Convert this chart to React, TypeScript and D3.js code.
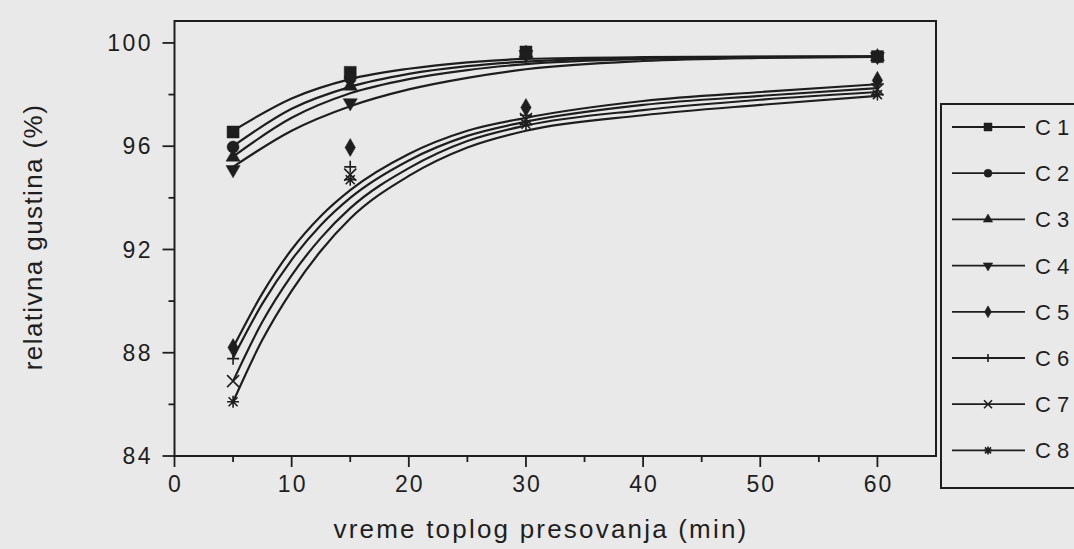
import React, { useEffect, useRef } from 'react';
import * as d3 from 'd3';

// measured times (min)
const TIMES = [5, 15, 30, 60];
const SERIES_NAMES = ['C1', 'C2', 'C3', 'C4', 'C5', 'C6', 'C7', 'C8'];
const SYMBOLS = ['square', 'circle', 'triangle', 'triangleDown', 'diamond', 'plus', 'cross', 'star'];

// measured relative density (%)
const c1Points = [96.55, 98.86, 99.65, 99.47];
const c2Points = [95.97, 98.63, 99.6, 99.47];
const c3Points = [95.58, 98.33, 99.6, 99.47];
const c4Points = [95.09, 97.68, 99.55, 99.47];
const c5Points = [88.2, 95.95, 97.5, 98.55];
const c6Points = [87.77, 95.2, 97.2, 98.4];
const c7Points = [86.9, 94.9, 97.05, 98.2];
const c8Points = [86.1, 94.7, 96.85, 98.0];

// fitted curves
const FIT_X_UPPER = [5, 10, 15, 20, 25, 30, 40, 50, 60];
const c1Fit = [96.6, 97.85, 98.6, 99.0, 99.25, 99.38, 99.45, 99.47, 99.48];
const c2Fit = [96.0, 97.45, 98.3, 98.8, 99.1, 99.28, 99.42, 99.46, 99.47];
const c3Fit = [95.6, 97.1, 98.05, 98.6, 98.95, 99.18, 99.38, 99.45, 99.47];
const c4Fit = [95.2, 96.6, 97.55, 98.2, 98.65, 98.98, 99.3, 99.42, 99.46];

const FIT_X_LOWER = [5, 7.5, 10, 12.5, 15, 20, 25, 30, 40, 50, 60];
const c5Fit = [88.2, 90.3, 92.0, 93.3, 94.3, 95.7, 96.6, 97.1, 97.75, 98.1, 98.4];
const c6Fit = [87.8, 89.9, 91.6, 92.95, 94.0, 95.45, 96.4, 96.95, 97.6, 97.95, 98.25];
const c7Fit = [86.9, 89.2, 91.0, 92.45, 93.6, 95.15, 96.2, 96.8, 97.4, 97.8, 98.1];
const c8Fit = [86.1, 88.5, 90.4, 91.95, 93.2, 94.85, 95.95, 96.6, 97.2, 97.6, 97.95];

const POINTS = [c1Points, c2Points, c3Points, c4Points, c5Points, c6Points, c7Points, c8Points];
const FITS = [c1Fit, c2Fit, c3Fit, c4Fit, c5Fit, c6Fit, c7Fit, c8Fit];

const X_TICKS = [0, 10, 20, 30, 40, 50, 60];
const Y_TICKS = [84, 88, 92, 96, 100];

const INK = '#1e1e1e';
const FONT = 'Liberation Sans, Arial, sans-serif';

function markerPath(kind: string, r: number): string {
  const sym = (t: d3.SymbolType, area: number) => d3.symbol().type(t).size(area)() as string;
  switch (kind) {
    case 'square': return sym(d3.symbolSquare, (2 * r) * (2 * r));
    case 'circle': return sym(d3.symbolCircle, Math.PI * r * r);
    case 'triangle': return sym(d3.symbolTriangle, r * r * 2.4);
    case 'triangleDown': return sym(d3.symbolTriangle, r * r * 2.4);
    case 'diamond': return sym(d3.symbolDiamond, r * r * 2.6);
    case 'plus': return `M${-r},0H${r}M0,${-r}V${r}`;
    case 'cross': return `M${-r},${-r}L${r},${r}M${-r},${r}L${r},${-r}`;
    default: {
      const d = r * 0.75;
      return `M${-r},0H${r}M0,${-r}V${r}M${-d},${-d}L${d},${d}M${-d},${d}L${d},${-d}`;
    }
  }
}

function drawMarker(g: d3.Selection<SVGGElement, unknown, null, undefined>, kind: string, x: number, y: number, r: number) {
  const filled = !['plus', 'cross', 'star'].includes(kind);
  g.append('path')
    .attr('d', markerPath(kind, r))
    .attr('transform', `translate(${x},${y})${kind === 'triangleDown' ? ' rotate(180)' : ''}`)
    .attr('fill', filled ? INK : 'none')
    .attr('stroke', INK)
    .attr('stroke-width', filled ? 0.5 : 1.6);
}

const App: React.FC = () => {
  const svgRef = useRef<SVGSVGElement>(null);

  useEffect(() => {
    if (!svgRef.current) return;
    const width = 1074;
    const height = 549;
    const margin = { left: 174.5, top: 21, right: 936, bottom: 456 };

    const svg = d3.select(svgRef.current);
    svg.selectAll('*').remove();

    svg.append('rect').attr('width', width).attr('height', height).attr('fill', '#e9e9e9');

    const x = d3.scaleLinear().domain([0, 65]).range([margin.left, margin.right]);
    const y = d3.scaleLinear().domain([84, 100.85]).range([margin.bottom, margin.top]);

    // frame
    svg.append('rect')
      .attr('x', margin.left).attr('y', margin.top)
      .attr('width', margin.right - margin.left).attr('height', margin.bottom - margin.top)
      .attr('fill', 'none').attr('stroke', INK).attr('stroke-width', 2);

    // y axis ticks
    const yAxis = svg.append('g');
    d3.range(84, 101, 2).forEach(v => {
      const major = v % 4 === 0;
      yAxis.append('line')
        .attr('x1', margin.left - (major ? 12 : 6)).attr('x2', margin.left)
        .attr('y1', y(v)).attr('y2', y(v))
        .attr('stroke', INK).attr('stroke-width', 1.8);
    });
    Y_TICKS.forEach(v => {
      yAxis.append('text')
        .attr('x', 153).attr('y', y(v))
        .attr('dy', '0.36em')
        .attr('text-anchor', 'end')
        .attr('font-family', FONT).attr('font-size', 23)
        .attr('letter-spacing', 2.5)
        .attr('fill', INK)
        .text(v);
    });

    // x axis ticks
    const xAxis = svg.append('g');
    d3.range(0, 61, 5).forEach(v => {
      const major = v % 10 === 0;
      xAxis.append('line')
        .attr('x1', x(v)).attr('x2', x(v))
        .attr('y1', margin.bottom).attr('y2', margin.bottom + (major ? 11 : 6))
        .attr('stroke', INK).attr('stroke-width', 1.8);
    });
    X_TICKS.forEach(v => {
      xAxis.append('text')
        .attr('x', x(v) + 1).attr('y', 492)
        .attr('text-anchor', 'middle')
        .attr('font-family', FONT).attr('font-size', 23)
        .attr('letter-spacing', 2)
        .attr('fill', INK)
        .text(v);
    });

    // axis titles
    svg.append('text')
      .attr('x', 541).attr('y', 538)
      .attr('text-anchor', 'middle')
      .attr('font-family', FONT).attr('font-size', 26)
      .attr('letter-spacing', 2.2)
      .attr('fill', INK)
      .text('vreme toplog presovanja (min)');

    svg.append('text')
      .attr('transform', `translate(42,237) rotate(-90)`)
      .attr('text-anchor', 'middle')
      .attr('font-family', FONT).attr('font-size', 26)
      .attr('letter-spacing', 1.4)
      .attr('fill', INK)
      .text('relativna gustina (%)');

    // fitted curves
    const line = d3.line<[number, number]>()
      .curve(d3.curveMonotoneX)
      .x(d => x(d[0]))
      .y(d => y(d[1]));

    FITS.forEach((fit, i) => {
      const xs = i < 4 ? FIT_X_UPPER : FIT_X_LOWER;
      const pts = xs.map((t, j) => [t, fit[j]] as [number, number]);
      svg.append('path')
        .attr('d', line(pts))
        .attr('fill', 'none')
        .attr('stroke', INK)
        .attr('stroke-width', 2.2);
    });

    // data markers
    const marks = svg.append('g');
    POINTS.forEach((vals, i) => {
      vals.forEach((v, j) => drawMarker(marks, SYMBOLS[i], x(TIMES[j]), y(v), 6));
    });

    // legend
    const legend = svg.append('g');
    legend.append('rect')
      .attr('x', 941).attr('y', 104)
      .attr('width', 150).attr('height', 384)
      .attr('fill', 'none').attr('stroke', INK).attr('stroke-width', 2);

    SERIES_NAMES.forEach((name, i) => {
      const ly = 127 + i * 46.2;
      legend.append('line')
        .attr('x1', 952).attr('x2', 1025)
        .attr('y1', ly).attr('y2', ly)
        .attr('stroke', INK).attr('stroke-width', 1.8);
      drawMarker(legend, SYMBOLS[i], 988, ly, 4);
      const t = legend.append('text')
        .attr('x', 1035).attr('y', ly)
        .attr('dy', '0.36em')
        .attr('font-family', FONT).attr('font-size', 22)
        .attr('fill', INK);
      t.append('tspan').text(name.slice(0, 1));
      t.append('tspan').attr('dx', 6).text(name.slice(1));
    });
  }, []);

  return (
    <div style={{ position: 'absolute', left: 0, top: 0, width: 1074, height: 549 }}>
      <svg ref={svgRef} width={1074} height={549} style={{ display: 'block' }} />
    </div>
  );
};

export default App;
